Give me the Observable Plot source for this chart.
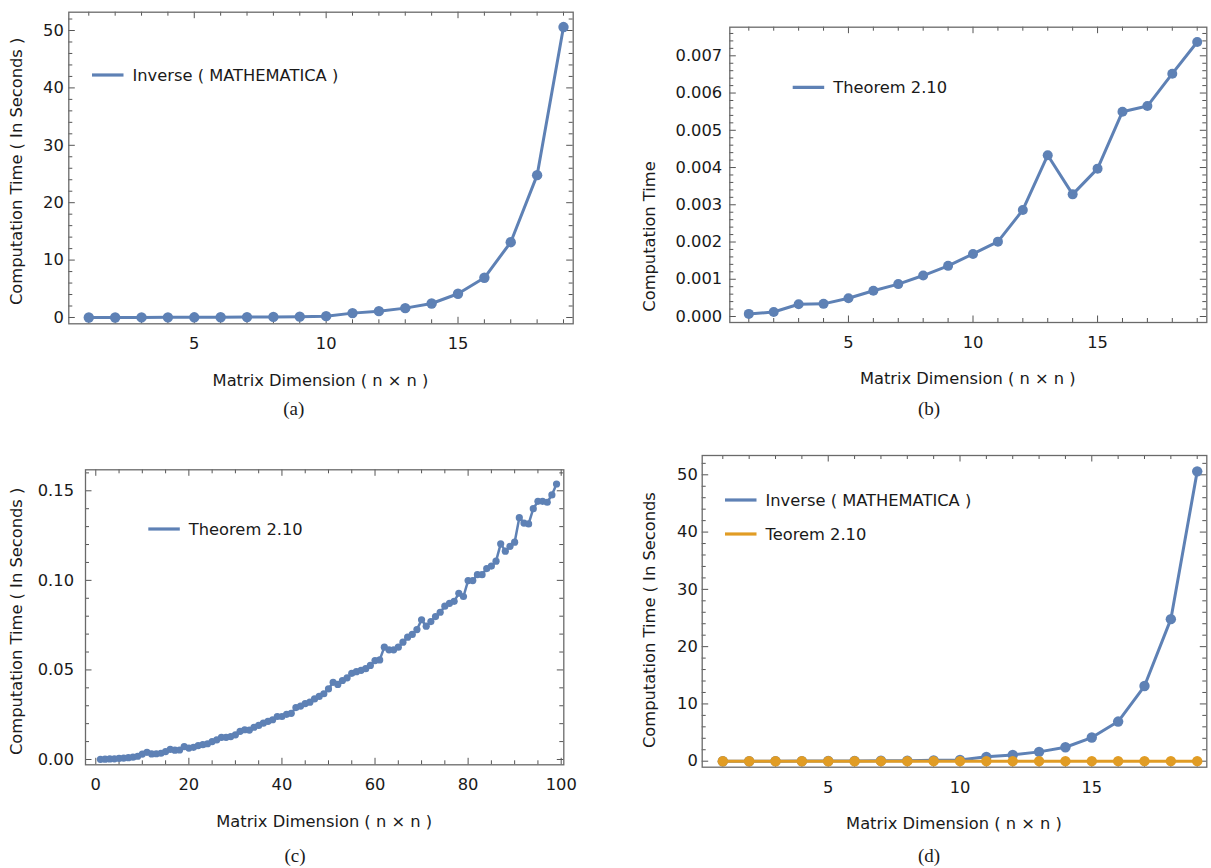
<!DOCTYPE html>
<html><head><meta charset="utf-8">
<script src="https://cdn.jsdelivr.net/npm/d3@7"></script>
<script src="https://cdn.jsdelivr.net/npm/@observablehq/plot@0.6"></script>
<style>
body{margin:0;background:#fff;}
#root{position:relative;width:1211px;height:868px;overflow:hidden;background:#fff;}
#root svg{position:absolute;}
</style></head><body><div id="root"></div>
<script>
// ---- data ----
const dims19 = [1,2,3,4,5,6,7,8,9,10,11,12,13,14,15,16,17,18,19];
const inverseMathematica = [0.00,0.00,0.01,0.02,0.03,0.05,0.07,0.10,0.15,0.23,0.76,1.10,1.63,2.44,4.13,6.92,13.12,24.8,50.6];
const theorem210 = [0.00007,0.00012,0.00033,0.00034,0.00049,0.00069,0.00087,0.00110,0.00136,0.00168,0.00201,0.00286,0.00433,0.00328,0.00397,0.00550,0.00565,0.00652,0.00737];
const dims99 = [1,2,3,4,5,6,7,8,9,10,11,12,13,14,15,16,17,18,19,20,21,22,23,24,25,26,27,28,29,30,31,32,33,34,35,36,37,38,39,40,41,42,43,44,45,46,47,48,49,50,51,52,53,54,55,56,57,58,59,60,61,62,63,64,65,66,67,68,69,70,71,72,73,74,75,76,77,78,79,80,81,82,83,84,85,86,87,88,89,90,91,92,93,94,95,96,97,98,99];
const theorem210Large = [0.0001,0.0002,0.0003,0.0004,0.0006,0.0008,0.0010,0.0013,0.0018,0.0030,
  0.0040,0.0031,0.0032,0.0035,0.0044,0.0057,0.0052,0.0053,0.0072,0.0064,
  0.0068,0.0078,0.0083,0.0088,0.0100,0.0110,0.0124,0.0124,0.0128,0.0138,
  0.0157,0.0166,0.0164,0.0180,0.0190,0.0203,0.0213,0.0222,0.0240,0.0240,
  0.0252,0.0258,0.0290,0.0298,0.0312,0.0320,0.0338,0.0352,0.0367,0.0394,
  0.0431,0.0419,0.0441,0.0456,0.0481,0.0490,0.0498,0.0507,0.0525,0.0552,
  0.0556,0.0627,0.0612,0.0612,0.0627,0.0655,0.0683,0.0698,0.0725,0.0780,
  0.0744,0.0770,0.0798,0.0822,0.0856,0.0872,0.0883,0.0928,0.0910,0.0999,
  0.0999,0.1032,0.1032,0.1066,0.1080,0.1107,0.1204,0.1163,0.1190,0.1213,
  0.1350,0.1320,0.1315,0.1400,0.1441,0.1441,0.1436,0.1477,0.1538];

// ---- tick labels ----
const xTicks19 = [5,10,15];
const yTicksSec = [0,10,20,30,40,50];
const yTicksB = [0,0.001,0.002,0.003,0.004,0.005,0.006,0.007];
const xTicks100 = [0,20,40,60,80,100];
const yTicksC = [0,0.05,0.10,0.15];

const BLUE = "#5E81B5", ORANGE = "#E19C24";
const FONT = "DejaVu Sans", FS = 16.3;
const xLabelText = "Matrix Dimension ( n \u00d7 n )";

const zip = (xs, ys) => xs.map((x, i) => ({x, y: ys[i]}));

function panel(o) {
  const fw = o.width - o.m.l - o.m.r, fh = o.height - o.m.t - o.m.b;
  const TL = 6.5, tl = 4;
  const inX = d => d >= o.xDomain[0] && d <= o.xDomain[1];
  const inY = d => d >= o.yDomain[0] && d <= o.yDomain[1];
  const xMinor = o.xMinor.filter(inX), yMinor = o.yMinor.filter(inY);
  const tickStyle = {stroke: "#555", strokeWidth: 1};
  const marks = [
    Plot.tickX(o.xMajor, {x: d => d, insetTop: fh - TL, ...tickStyle}),
    Plot.tickX(o.xMajor, {x: d => d, insetBottom: fh - TL, ...tickStyle}),
    Plot.tickX(xMinor, {x: d => d, insetTop: fh - tl, ...tickStyle}),
    Plot.tickX(xMinor, {x: d => d, insetBottom: fh - tl, ...tickStyle}),
    Plot.tickY(o.yMajor, {y: d => d, insetRight: fw - TL, ...tickStyle}),
    Plot.tickY(o.yMajor, {y: d => d, insetLeft: fw - TL, ...tickStyle}),
    Plot.tickY(yMinor, {y: d => d, insetRight: fw - tl, ...tickStyle}),
    Plot.tickY(yMinor, {y: d => d, insetLeft: fw - tl, ...tickStyle}),
    Plot.axisX({anchor: "bottom", ticks: o.xMajor, tickSize: 0, tickPadding: 14, tickFormat: d3.format("d"), label: null, fill: "#1a1a1a"}),
    Plot.axisY({anchor: "left", ticks: o.yMajor, tickSize: 0, tickPadding: o.yPad, tickFormat: o.yFormat, label: null, fill: "#1a1a1a"}),
    Plot.frame({stroke: "#6a6a6a", strokeWidth: 1.3})
  ];
  for (const s of o.series) {
    marks.push(Plot.line(s.data, {x: "x", y: "y", stroke: s.color, strokeWidth: o.sw, strokeLinejoin: "round"}));
    marks.push(Plot.dot(s.data, {x: "x", y: "y", r: o.r, fill: s.color}));
  }
  const svg = Plot.plot({
    width: o.width, height: o.height,
    marginLeft: o.m.l, marginRight: o.m.r, marginTop: o.m.t, marginBottom: o.m.b,
    x: {domain: o.xDomain}, y: {domain: o.yDomain},
    style: {fontFamily: FONT, fontSize: FS + "px", color: "#1a1a1a", background: "transparent", overflow: "visible"},
    marks
  });
  svg.style.left = o.left + "px";
  svg.style.top = o.top + "px";
  const g = d3.select(svg).append("g").attr("font-family", FONT).attr("font-size", FS).attr("fill", "#1a1a1a");
  // legend
  for (const L of o.legend) {
    g.append("line").attr("x1", L.x).attr("x2", L.x + 31.5).attr("y1", L.y).attr("y2", L.y)
      .attr("stroke", L.color).attr("stroke-width", 3.2);
    g.append("text").attr("x", L.x + 40.5).attr("y", L.y + 6).attr("text-anchor", "start").text(L.text);
  }
  // y label (rotated)
  g.append("text").attr("transform", `translate(${o.yLab.x},${o.yLab.y}) rotate(-90)`)
    .attr("text-anchor", "start").text(o.yLab.text);
  // x label
  g.append("text").attr("x", o.m.l + fw / 2).attr("y", o.xLabY).attr("text-anchor", "middle").text(xLabelText);
  // caption
  g.append("text").attr("x", o.cap.x).attr("y", o.cap.y).attr("text-anchor", "middle")
    .attr("font-family", "Liberation Serif").attr("font-size", 19).text(o.cap.text);
  document.getElementById("root").appendChild(svg);
}

const range = (a, b, s) => d3.range(Math.round(a / s), Math.round(b / s) + 1).map(i => +(i * s).toFixed(6));
const minorOf = (arr, major) => arr.filter(v => !major.some(m => Math.abs(m - v) < 1e-9));

// (a)
panel({
  left: 0, top: 0, width: 600, height: 428,
  m: {l: 68.3, r: 27.3, t: 11.7, b: 104.7},
  xDomain: [0.242, 19.368], yDomain: [-1.10, 53.19],
  xMajor: xTicks19, xMinor: minorOf(range(0, 20, 1), xTicks19),
  yMajor: yTicksSec, yMinor: minorOf(range(0, 54, 2), yTicksSec),
  yFormat: d3.format("d"), yPad: 5,
  series: [{data: zip(dims19, inverseMathematica), color: BLUE}],
  r: 5.2, sw: 3,
  legend: [{x: 92, y: 75, color: BLUE, text: "Inverse ( MATHEMATICA )"}],
  yLab: {x: 22, y: 305, text: "Computation Time ( In Seconds )"},
  xLabY: 386, cap: {x: 293.7, y: 415, text: "(a)"}
});

// (b)
panel({
  left: 610, top: 0, width: 601, height: 428,
  m: {l: 119.3, r: 4.7, t: 26.7, b: 106},
  xDomain: [0.237, 19.385], yDomain: [-0.000161, 0.007768],
  xMajor: xTicks19, xMinor: minorOf(range(0, 20, 1), xTicks19),
  yMajor: yTicksB, yMinor: minorOf(range(0, 0.0078, 0.0002), yTicksB),
  yFormat: d3.format(".3f"), yPad: 7.6,
  series: [{data: zip(dims19, theorem210), color: BLUE}],
  r: 5, sw: 3,
  legend: [{x: 182.7, y: 87.3, color: BLUE, text: "Theorem 2.10"}],
  yLab: {x: 45.3, y: 311.7, text: "Computation Time"},
  xLabY: 384, cap: {x: 319, y: 415, text: "(b)"}
});

// (c)
panel({
  left: 0, top: 440, width: 600, height: 428,
  m: {l: 85, r: 36.7, t: 29.3, b: 103.7},
  xDomain: [-2.21, 100.56], yDomain: [-0.00296, 0.16172],
  xMajor: xTicks100, xMinor: minorOf(range(0, 100, 5), xTicks100),
  yMajor: yTicksC, yMinor: minorOf(range(0, 0.16, 0.01), yTicksC),
  yFormat: d3.format(".2f"), yPad: 11.5,
  series: [{data: zip(dims99, theorem210Large), color: BLUE}],
  r: 3.6, sw: 2.5,
  legend: [{x: 148.3, y: 89, color: BLUE, text: "Theorem 2.10"}],
  yLab: {x: 22, y: 315, text: "Computation Time ( In Seconds )"},
  xLabY: 386.7, cap: {x: 295, y: 421.5, text: "(c)"}
});

// (d)
panel({
  left: 610, top: 440, width: 601, height: 428,
  m: {l: 91.7, r: 4.7, t: 15, b: 101.3},
  xDomain: [0.218, 19.364], yDomain: [-1.047, 53.37],
  xMajor: xTicks19, xMinor: minorOf(range(0, 20, 1), xTicks19),
  yMajor: yTicksSec, yMinor: minorOf(range(0, 54, 2), yTicksSec),
  yFormat: d3.format("d"), yPad: 4.4,
  series: [
    {data: zip(dims19, inverseMathematica), color: BLUE},
    {data: zip(dims19, theorem210), color: ORANGE}
  ],
  r: 5.2, sw: 3,
  legend: [
    {x: 115, y: 60, color: BLUE, text: "Inverse ( MATHEMATICA )"},
    {x: 115, y: 94, color: ORANGE, text: "Teorem 2.10"}
  ],
  yLab: {x: 45.3, y: 308, text: "Computation Time ( In Seconds"},
  xLabY: 389, cap: {x: 319, y: 421.5, text: "(d)"}
});
</script></body></html>
